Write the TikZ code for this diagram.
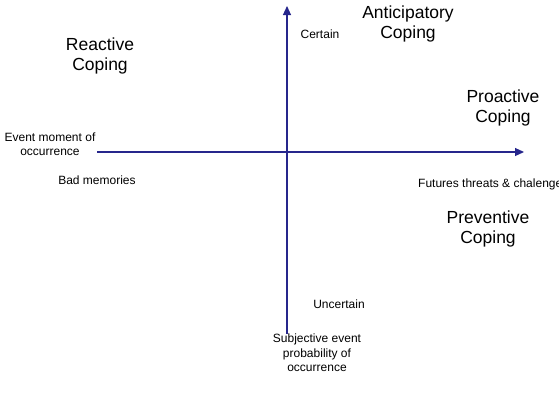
\documentclass[tikz,border=0pt]{standalone}
\usepackage{fontspec}
\setmainfont{Liberation Sans}
\usetikzlibrary{arrows.meta}
\definecolor{axisblue}{RGB}{38,38,140}
\tikzset{
  big/.style={align=center, font=\fontsize{17.5}{20.5}\selectfont, inner sep=0pt},
  small/.style={align=center, font=\fontsize{12}{14.5}\selectfont, inner sep=0pt},
  axis/.style={draw=axisblue, line width=1.1pt, -{Triangle[length=9pt,width=8pt]}},
}
\begin{document}
\begin{tikzpicture}[x=1pt,y=-1pt]
\clip (0,0) rectangle (559,402);
\fill[white] (0,0) rectangle (559,402);
\coordinate (vbot) at (287,334);
\coordinate (vtop) at (287,6);
\coordinate (hleft) at (97,152);
\coordinate (hright) at (524,152);
\draw[axis] (vbot) -- (vtop);
\draw[axis] (hleft) -- (hright);
\node[big] (reactive) at (100,56) {Reactive\\Coping};
\node[big] (anticip) at (408,24) {Anticipatory\\Coping};
\node[big] (proactive) at (503,108) {Proactive\\Coping};
\node[big] (preventive) at (488,229) {Preventive\\Coping};
\node[small] (certain) at (320,34) {Certain};
\node[small] (event) at (50,144) {Event moment of\\occurrence};
\node[small] (bad) at (97,180) {Bad memories};
\node[small, anchor=west] (futures) at (418,184) {Futures threats \& chalenges};
\node[small] (uncertain) at (339,304) {Uncertain};
\node[small] (subj) at (317,353) {Subjective event\\probability of\\occurrence};
\end{tikzpicture}
\end{document}
